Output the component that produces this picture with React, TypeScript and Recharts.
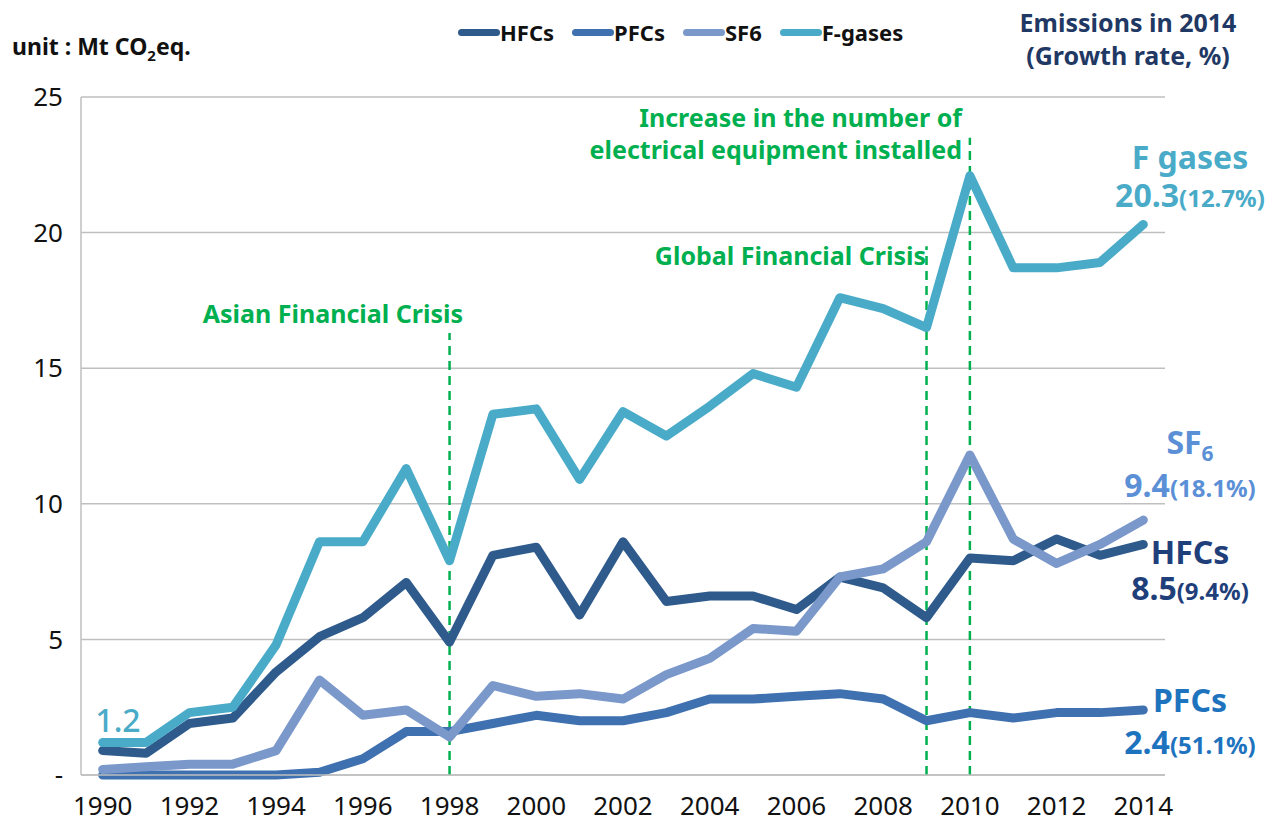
import { LineChart, Line, XAxis, YAxis, CartesianGrid, ReferenceLine } from "recharts";

const years = [1990, 1991, 1992, 1993, 1994, 1995, 1996, 1997, 1998, 1999, 2000, 2001, 2002, 2003, 2004, 2005, 2006, 2007, 2008, 2009, 2010, 2011, 2012, 2013, 2014];
const hfcs = [0.9, 0.8, 1.9, 2.1, 3.8, 5.1, 5.8, 7.1, 4.9, 8.1, 8.4, 5.9, 8.6, 6.4, 6.6, 6.6, 6.1, 7.3, 6.9, 5.8, 8.0, 7.9, 8.7, 8.1, 8.5];
const pfcs = [0.0, 0.0, 0.0, 0.0, 0.0, 0.1, 0.6, 1.6, 1.6, 1.9, 2.2, 2.0, 2.0, 2.3, 2.8, 2.8, 2.9, 3.0, 2.8, 2.0, 2.3, 2.1, 2.3, 2.3, 2.4];
const sf6 = [0.2, 0.3, 0.4, 0.4, 0.9, 3.5, 2.2, 2.4, 1.4, 3.3, 2.9, 3.0, 2.8, 3.7, 4.3, 5.4, 5.3, 7.3, 7.6, 8.6, 11.8, 8.7, 7.8, 8.5, 9.4];
const fgases = [1.2, 1.2, 2.3, 2.5, 4.8, 8.6, 8.6, 11.3, 7.9, 13.3, 13.5, 10.9, 13.4, 12.5, 13.6, 14.8, 14.3, 17.6, 17.2, 16.5, 22.1, 18.7, 18.7, 18.9, 20.3];
const xTicks = [1990, 1992, 1994, 1996, 1998, 2000, 2002, 2004, 2006, 2008, 2010, 2012, 2014];
const yTicks = [0, 5, 10, 15, 20, 25];

const series = [
  { key: "HFCs", color: "#2f5b8c" },
  { key: "PFCs", color: "#3f70b0" },
  { key: "SF6", color: "#7b98cb" },
  { key: "F-gases", color: "#4aabc8" },
];

// events: year, top of the dashed marker
const events = [
  { year: 1998, top: 16.3 },
  { year: 2009, top: 19.5 },
  { year: 2010, top: 23.5 },
];

const data = years.map((y, i) => ({ year: y, HFCs: hfcs[i], PFCs: pfcs[i], SF6: sf6[i], "F-gases": fgases[i] }));

const FONT = "'Noto Sans', 'Open Sans', sans-serif";
const GREEN = "#00b050";

function Txt({ x, y, w, align = "center", size, color, weight = 700, children }: any) {
  const left = align === "center" ? x - w / 2 : align === "right" ? x - w : x;
  return (
    <div style={{ position: "absolute", left, top: y - size * 0.7, width: w, textAlign: align, fontFamily: FONT, fontWeight: weight, fontSize: size, lineHeight: `${size * 1.4}px`, color, whiteSpace: "nowrap" }}>
      {children}
    </div>
  );
}

export default function App() {
  return (
    <div style={{ position: "absolute", left: 0, top: 0, width: 1271, height: 831, background: "#fff", overflow: "hidden" }}>
      <LineChart width={1271} height={831} data={data} margin={{ top: 97, right: 106, bottom: 16, left: 21 }}>
        <CartesianGrid vertical={false} stroke="#bfbfbf" strokeWidth={1.5} />
        <XAxis
          dataKey="year"
          type="number"
          domain={[1989.5, 2014.5]}
          ticks={xTicks}
          tickLine={false}
          axisLine={{ stroke: "#bfbfbf", strokeWidth: 1.5 }}
          tick={{ fill: "#111", fontSize: 26, fontFamily: FONT }}
          tickMargin={16}
          height={40}
          interval={0}
        />
        <YAxis
          domain={[0, 25]}
          ticks={yTicks}
          tickLine={false}
          axisLine={{ stroke: "#bfbfbf", strokeWidth: 1.5 }}
          tick={{ fill: "#111", fontSize: 26, fontFamily: FONT }}
          tickFormatter={(v) => (v === 0 ? "-" : `${v}`)}
          tickMargin={12}
          width={60}
        />
        {events.map((e) => (
          <ReferenceLine
            key={e.year}
            segment={[{ x: e.year, y: 0 }, { x: e.year, y: e.top }]}
            stroke={GREEN}
            strokeWidth={2.5}
            strokeDasharray="9 6"
          />
        ))}
        {series.map((s) => (
          <Line key={s.key} type="linear" dataKey={s.key} stroke={s.color} strokeWidth={9} dot={false} strokeLinejoin="round" strokeLinecap="round" isAnimationActive={false} />
        ))}
      </LineChart>

      <div style={{ position: "absolute", left: 458, top: 18, display: "flex", fontFamily: FONT, fontWeight: 700, fontSize: 22, color: "#111", lineHeight: "28px" }}>
        {series.map((s) => (
          <div key={s.key} style={{ display: "flex", alignItems: "center", marginRight: 18 }}>
            <span style={{ display: "inline-block", width: 42, height: 7, borderRadius: 4, background: s.color }} />
            <span>{s.key}</span>
          </div>
        ))}
      </div>

      <Txt x={12} y={46} w={240} align="left" size={23} color="#111">
        unit : Mt CO<sub style={{ fontSize: 15 }}>2</sub>eq.
      </Txt>
      <Txt x={1128} y={22} w={260} size={25} color="#1f3864">Emissions in 2014</Txt>
      <Txt x={1128} y={55} w={260} size={25} color="#1f3864">(Growth rate, %)</Txt>

      <Txt x={463} y={313} w={320} align="right" size={25} color={GREEN}>Asian Financial Crisis</Txt>
      <Txt x={926} y={255} w={340} align="right" size={25} color={GREEN}>Global Financial Crisis</Txt>
      <Txt x={962} y={117} w={420} align="right" size={25} color={GREEN}>Increase in the number of</Txt>
      <Txt x={962} y={149} w={420} align="right" size={25} color={GREEN}>electrical equipment installed</Txt>

      <Txt x={118} y={720} w={60} align="center" size={32} weight={500} color="#4aabc8">1.2</Txt>

      <Txt x={1190} y={157} w={200} size={32} color="#4aabc8">F gases</Txt>
      <Txt x={1190} y={195} w={200} size={32} color="#4aabc8">20.3<span style={{ fontSize: 24 }}>(12.7%)</span></Txt>
      <Txt x={1190} y={442} w={200} size={32} color="#5b8fd6">SF<sub style={{ fontSize: 21 }}>6</sub></Txt>
      <Txt x={1190} y={485} w={200} size={32} color="#5b8fd6">9.4<span style={{ fontSize: 24 }}>(18.1%)</span></Txt>
      <Txt x={1190} y={552} w={200} size={32} color="#1f3f7a">HFCs</Txt>
      <Txt x={1190} y={588} w={200} size={32} color="#1f3f7a">8.5<span style={{ fontSize: 24 }}>(9.4%)</span></Txt>
      <Txt x={1190} y={700} w={200} size={32} color="#1e73be">PFCs</Txt>
      <Txt x={1190} y={742} w={200} size={32} color="#1e73be">2.4<span style={{ fontSize: 24 }}>(51.1%)</span></Txt>
    </div>
  );
}
